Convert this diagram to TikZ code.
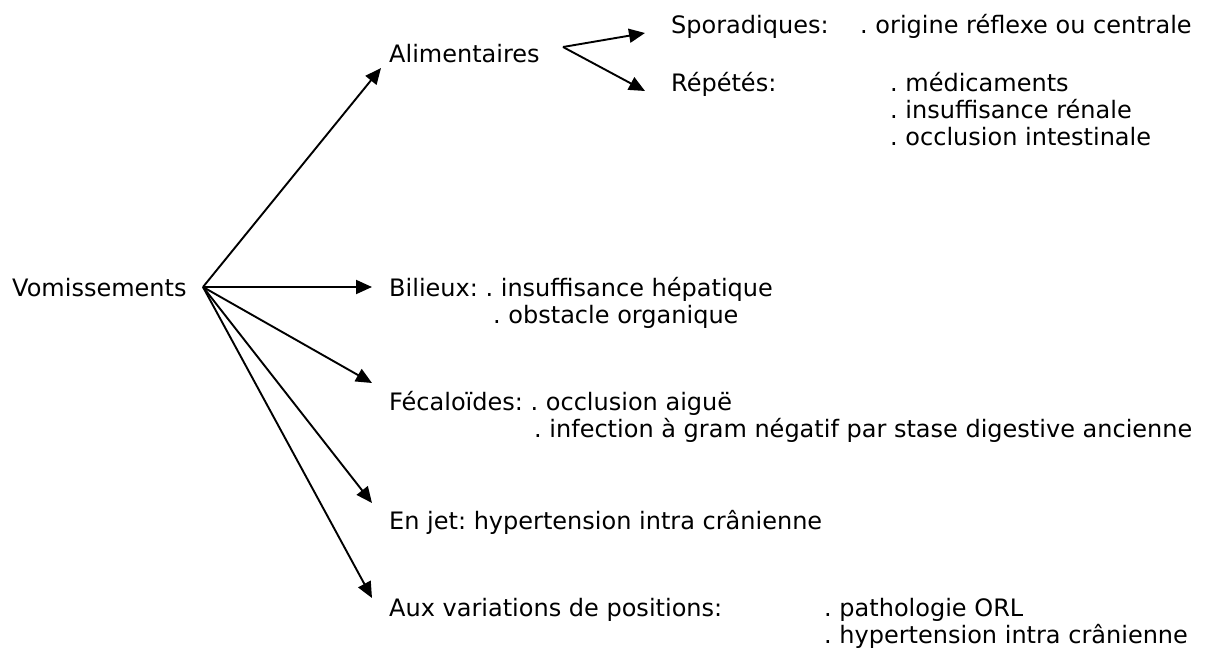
\documentclass[tikz,border=0pt]{standalone}
\usepackage{fontspec}
\setmainfont{DejaVu Sans}
\usetikzlibrary{arrows.meta}
\usetikzlibrary{positioning}
\frenchspacing

\begin{document}
\begin{tikzpicture}[x=1pt, y=-1pt,
			label/.style={anchor=base west, inner sep=0pt, font=\fontsize{24}{27}\selectfont},
			branch/.style={-{Triangle[length=16pt, width=14pt]}, line width=1.9pt},
			every text node part/.style={align=left}]
			\useasboundingbox (0,0) rectangle (1205,653);
			
			\node[label](vom) at (12, 296) {Vomissements};
			\coordinate (hub) at (203, 287);
			
			% first level
			\node[label](ali) at (389, 62) {Alimentaires};
			\node[label](bil) at (389, 296) {Bilieux: . insuffisance hépatique};
			\node[label](bil2) at (493, 323) {. obstacle organique};
			\node[label](fec) at (389, 410) {Fécaloïdes: . occlusion aiguë};
			\node[label](fec2) at (534, 437) {. infection à gram négatif par stase digestive ancienne};
			\node[label](jet) at (389, 529) {En jet: hypertension intra crânienne};
			\node[label](pos) at (389, 616) {Aux variations de positions:};
			\node[label](pos1) at (824, 616) {. pathologie ORL};
			\node[label](pos2) at (824, 643) {. hypertension intra crânienne};
			
			\coordinate (to-ali) at (381, 68);
			\coordinate (to-bil) at (372, 287);
			\coordinate (to-fec) at (372, 383);
			\coordinate (to-jet) at (372, 503);
			\coordinate (to-pos) at (372, 598);
			\draw[branch] (hub) -- (to-ali);
			\draw[branch] (hub) -- (to-bil);
			\draw[branch] (hub) -- (to-fec);
			\draw[branch] (hub) -- (to-jet);
			\draw[branch] (hub) -- (to-pos);
			
			% second level
			\node[label](spo) at (671, 34) {Sporadiques:};
			\node[label](spo1) at (860, 34) {. origine réflexe ou centrale};
			\node[label](rep) at (671, 91) {Répétés:};
			\node[label](rep1) at (890, 91) {. médicaments};
			\node[label](rep2) at (890, 118) {. insuffisance rénale};
			\node[label](rep3) at (890, 145) {. occlusion intestinale};
			
			\coordinate (ali-out) at (563, 47);
			\coordinate (to-spo) at (645, 33);
			\coordinate (to-rep) at (645, 91);
			\draw[branch] (ali-out) -- (to-spo);
			\draw[branch] (ali-out) -- (to-rep);
			\end{tikzpicture}
\end{document}
